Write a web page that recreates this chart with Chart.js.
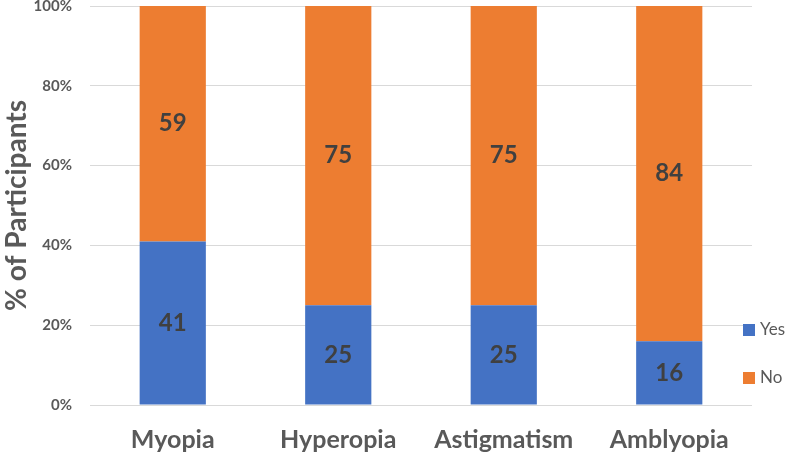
<!DOCTYPE html>
<html>
<head>
<meta charset="utf-8">
<script src="https://cdn.jsdelivr.net/npm/chart.js@4"></script>
<style>
  html, body { margin: 0; padding: 0; background: #fff; }
  #wrap { width: 787px; height: 454px; }
</style>
</head>
<body>
<div id="wrap"><canvas id="chart"></canvas></div>
<script>
// données
const categories = ["Myopia", "Hyperopia", "Astigmatism", "Amblyopia"];
const yesValues = [41, 25, 25, 16];
const noValues = [59, 75, 75, 84];
const yTicks = [0, 20, 40, 60, 80, 100];

const BLUE = "#4472C4";
const ORANGE = "#ED7D31";
const FONT = "Lato, 'Open Sans', sans-serif";

// étiquettes au centre des segments
const segmentLabels = {
  id: "segmentLabels",
  afterDatasetsDraw(chart) {
    const ctx = chart.ctx;
    ctx.save();
    ctx.font = "bold 24px " + FONT;
    ctx.fillStyle = "#404040";
    ctx.textAlign = "center";
    ctx.textBaseline = "middle";
    chart.data.datasets.forEach((ds, i) => {
      chart.getDatasetMeta(i).data.forEach((el, j) => {
        ctx.fillText(String(ds.data[j]), el.x, (el.y + el.base) / 2);
      });
    });
    ctx.restore();
  },
};

// légende à droite, en bas
const sideLegend = {
  id: "sideLegend",
  afterDraw(chart) {
    const ctx = chart.ctx;
    ctx.save();
    ctx.font = "17px " + FONT;
    ctx.textBaseline = "middle";
    ctx.textAlign = "left";
    const rows = [
      { label: "Yes", color: BLUE, y: 330 },
      { label: "No", color: ORANGE, y: 378 },
    ];
    rows.forEach((r) => {
      ctx.fillStyle = r.color;
      ctx.fillRect(743, r.y - 6, 12, 12);
      ctx.fillStyle = "#595959";
      ctx.fillText(r.label, 760, r.y);
    });
    ctx.restore();
  },
};

new Chart(document.getElementById("chart"), {
  type: "bar",
  data: {
    labels: categories,
    datasets: [
      { label: "Yes", data: yesValues, backgroundColor: BLUE },
      { label: "No", data: noValues, backgroundColor: ORANGE },
    ],
  },
  options: {
    responsive: true,
    maintainAspectRatio: false,
    animation: false,
    layout: { padding: { top: 6, right: 35, left: 0, bottom: 0 } },
    datasets: { bar: { categoryPercentage: 1, barPercentage: 0.4 } },
    plugins: { legend: { display: false }, tooltip: { enabled: false } },
    scales: {
      x: {
        stacked: true,
        grid: { display: false, drawTicks: false },
        border: { display: false },
        ticks: {
          color: "#595959",
          font: { family: FONT, size: 25, weight: "bold" },
          padding: 20,
        },
        afterFit: (axis) => { axis.height = 49; },
      },
      y: {
        stacked: true,
        min: 0,
        max: 100,
        afterBuildTicks: (axis) => { axis.ticks = yTicks.map((v) => ({ value: v })); },
        grid: { color: "#D9D9D9", drawTicks: false },
        border: { display: false },
        ticks: {
          color: "#595959",
          font: { family: FONT, size: 15, weight: "bold" },
          padding: 18,
          callback: (v) => v + "%",
        },
        title: {
          display: true,
          text: "% of Participants",
          color: "#595959",
          font: { family: FONT, size: 28, weight: "bold" },
          padding: { top: 0, bottom: 0 },
        },
        afterFit: (axis) => {
          axis.width = 90;
          axis.paddingTop = 0;
          axis.paddingBottom = 0;
        },
      },
    },
  },
  plugins: [segmentLabels, sideLegend],
});
</script>
</body>
</html>
